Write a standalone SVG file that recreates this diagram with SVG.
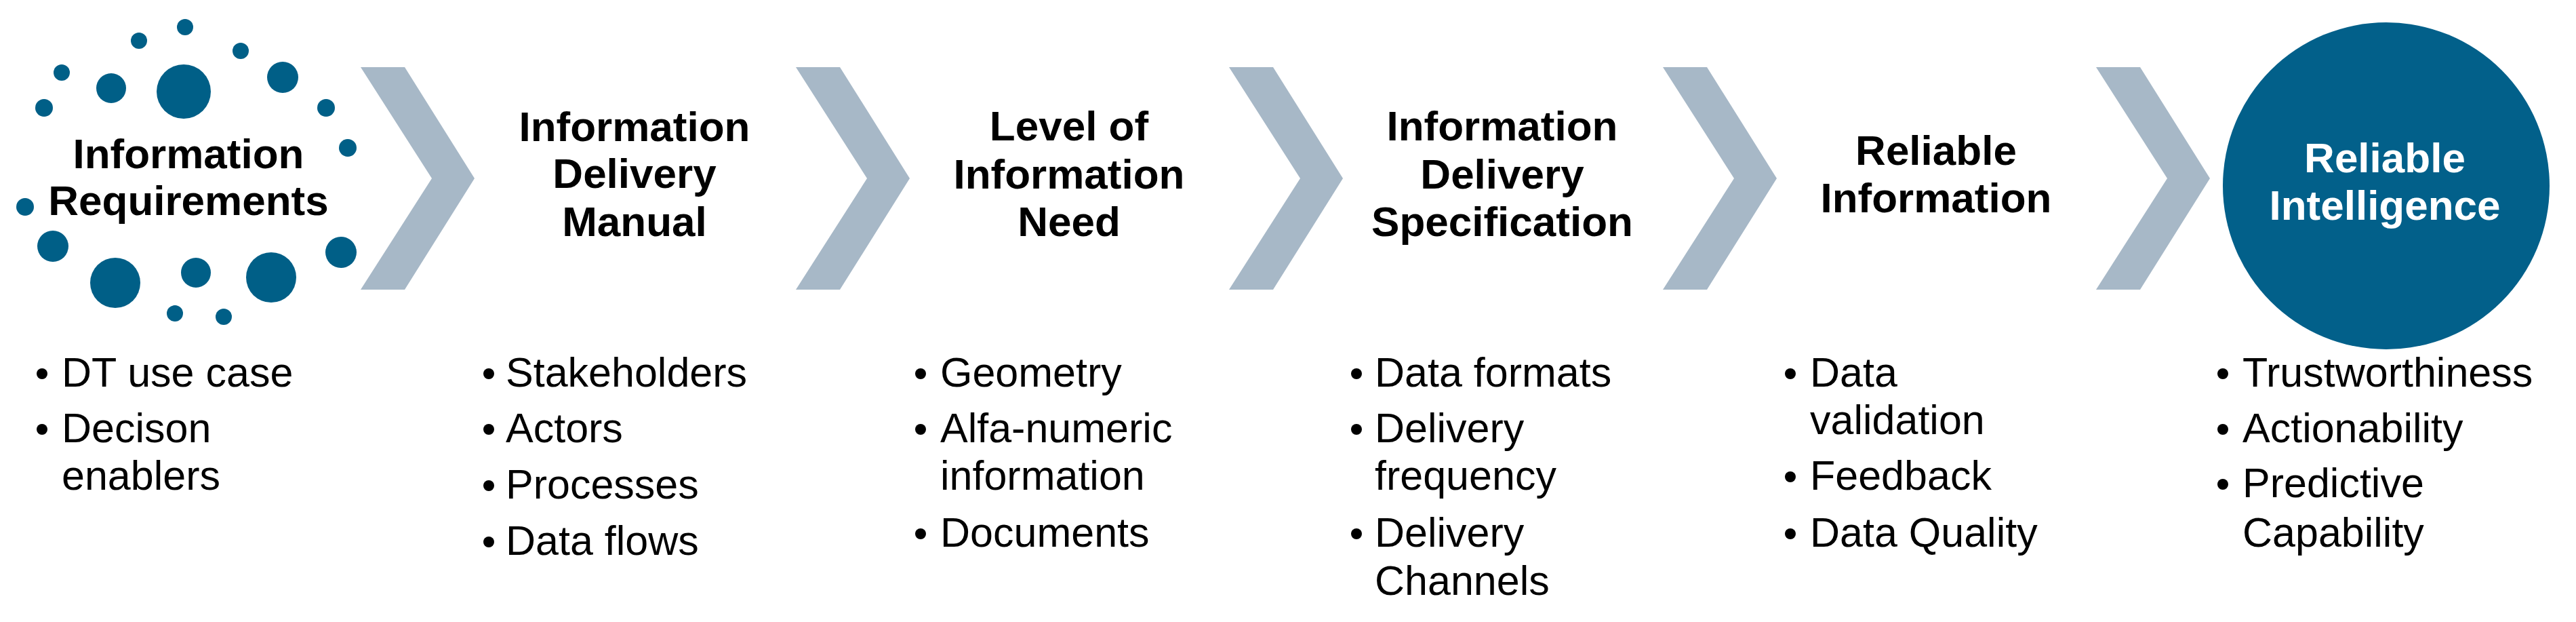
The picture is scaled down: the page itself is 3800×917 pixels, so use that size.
<svg xmlns="http://www.w3.org/2000/svg" width="3800" height="917" viewBox="0 0 3800 917">
<style>
.hd{font-family:"Liberation Sans",Arial,sans-serif;font-weight:bold;font-size:62px;fill:#000;text-anchor:middle}
.hw{font-family:"Liberation Sans",Arial,sans-serif;font-weight:bold;font-size:62px;fill:#fff;text-anchor:middle}
.bt{font-family:"Liberation Sans",Arial,sans-serif;font-size:61px;fill:#000}
.dot{fill:#005F87}
.bul{fill:#000}
.chev{fill:#A7B8C7}
</style>
<rect width="3800" height="917" fill="#fff"/>
<g id="connectors">
<polygon class="chev" points="532,99 597,99 700,263 597,427 532,427 637,263"/>
<polygon class="chev" points="1174,99 1239,99 1342,263 1239,427 1174,427 1279,263"/>
<polygon class="chev" points="1813,99 1878,99 1981,263 1878,427 1813,427 1918,263"/>
<polygon class="chev" points="2453,99 2518,99 2621,263 2518,427 2453,427 2558,263"/>
<polygon class="chev" points="3092,99 3157,99 3260,263 3157,427 3092,427 3197,263"/>
</g>
<g id="node-information-requirements">
<g id="dots">
<circle class="dot" cx="273" cy="40" r="12"/>
<circle class="dot" cx="205" cy="60" r="12"/>
<circle class="dot" cx="355" cy="75" r="12"/>
<circle class="dot" cx="91" cy="107" r="12"/>
<circle class="dot" cx="164" cy="130" r="22"/>
<circle class="dot" cx="271" cy="135" r="40"/>
<circle class="dot" cx="417" cy="114" r="23"/>
<circle class="dot" cx="65" cy="159" r="13"/>
<circle class="dot" cx="481" cy="159" r="13"/>
<circle class="dot" cx="513" cy="218" r="13"/>
<circle class="dot" cx="37" cy="305" r="13"/>
<circle class="dot" cx="78" cy="363" r="23"/>
<circle class="dot" cx="170" cy="417" r="37"/>
<circle class="dot" cx="289" cy="402" r="22"/>
<circle class="dot" cx="400" cy="409" r="37"/>
<circle class="dot" cx="503" cy="372" r="23"/>
<circle class="dot" cx="258" cy="462" r="12"/>
<circle class="dot" cx="330" cy="467" r="12"/>
</g>
<text class="hd" x="278" y="248">Information</text>
<text class="hd" x="278" y="317">Requirements</text>
<circle class="bul" cx="62" cy="551" r="8"/>
<circle class="bul" cx="62" cy="633" r="8"/>
<text class="bt" x="91" y="570">DT use case</text>
<text class="bt" x="91" y="652">Decison</text>
<text class="bt" x="91" y="722">enablers</text>
</g>
<g id="node-idm">
<text class="hd" x="936" y="208">Information</text>
<text class="hd" x="936" y="277">Delivery</text>
<text class="hd" x="936" y="348">Manual</text>
<circle class="bul" cx="721" cy="551" r="8"/>
<circle class="bul" cx="721" cy="633" r="8"/>
<circle class="bul" cx="721" cy="716" r="8"/>
<circle class="bul" cx="721" cy="799" r="8"/>
<text class="bt" x="746" y="570">Stakeholders</text>
<text class="bt" x="746" y="652">Actors</text>
<text class="bt" x="746" y="735">Processes</text>
<text class="bt" x="746" y="818">Data flows</text>
</g>
<g id="node-loin">
<text class="hd" x="1577" y="207">Level of</text>
<text class="hd" x="1577" y="278">Information</text>
<text class="hd" x="1577" y="348">Need</text>
<circle class="bul" cx="1358" cy="551" r="8"/>
<circle class="bul" cx="1358" cy="633" r="8"/>
<circle class="bul" cx="1358" cy="787" r="8"/>
<text class="bt" x="1387" y="570">Geometry</text>
<text class="bt" x="1387" y="652">Alfa-numeric</text>
<text class="bt" x="1387" y="722">information</text>
<text class="bt" x="1387" y="806">Documents</text>
</g>
<g id="node-ids">
<text class="hd" x="2216" y="207">Information</text>
<text class="hd" x="2216" y="278">Delivery</text>
<text class="hd" x="2216" y="348">Specification</text>
<circle class="bul" cx="2001" cy="551" r="8"/>
<circle class="bul" cx="2001" cy="633" r="8"/>
<circle class="bul" cx="2001" cy="787" r="8"/>
<text class="bt" x="2028" y="570">Data formats</text>
<text class="bt" x="2028" y="652">Delivery</text>
<text class="bt" x="2028" y="722">frequency</text>
<text class="bt" x="2028" y="806">Delivery</text>
<text class="bt" x="2028" y="877">Channels</text>
</g>
<g id="node-reliable-information">
<text class="hd" x="2856" y="243">Reliable</text>
<text class="hd" x="2856" y="313">Information</text>
<circle class="bul" cx="2641" cy="551" r="8"/>
<circle class="bul" cx="2641" cy="703" r="8"/>
<circle class="bul" cx="2641" cy="787" r="8"/>
<text class="bt" x="2670" y="570">Data</text>
<text class="bt" x="2670" y="640">validation</text>
<text class="bt" x="2670" y="722">Feedback</text>
<text class="bt" x="2670" y="806">Data Quality</text>
</g>
<g id="node-reliable-intelligence">
<circle cx="3520" cy="274" r="241" fill="#02608A"/>
<text class="hw" x="3518" y="254">Reliable</text>
<text class="hw" x="3518" y="324">Intelligence</text>
<circle class="bul" cx="3279" cy="551" r="8"/>
<circle class="bul" cx="3279" cy="633" r="8"/>
<circle class="bul" cx="3279" cy="714" r="8"/>
<text class="bt" x="3308" y="570">Trustworthiness</text>
<text class="bt" x="3308" y="652">Actionability</text>
<text class="bt" x="3308" y="733">Predictive</text>
<text class="bt" x="3308" y="806">Capability</text>
</g>
</svg>
